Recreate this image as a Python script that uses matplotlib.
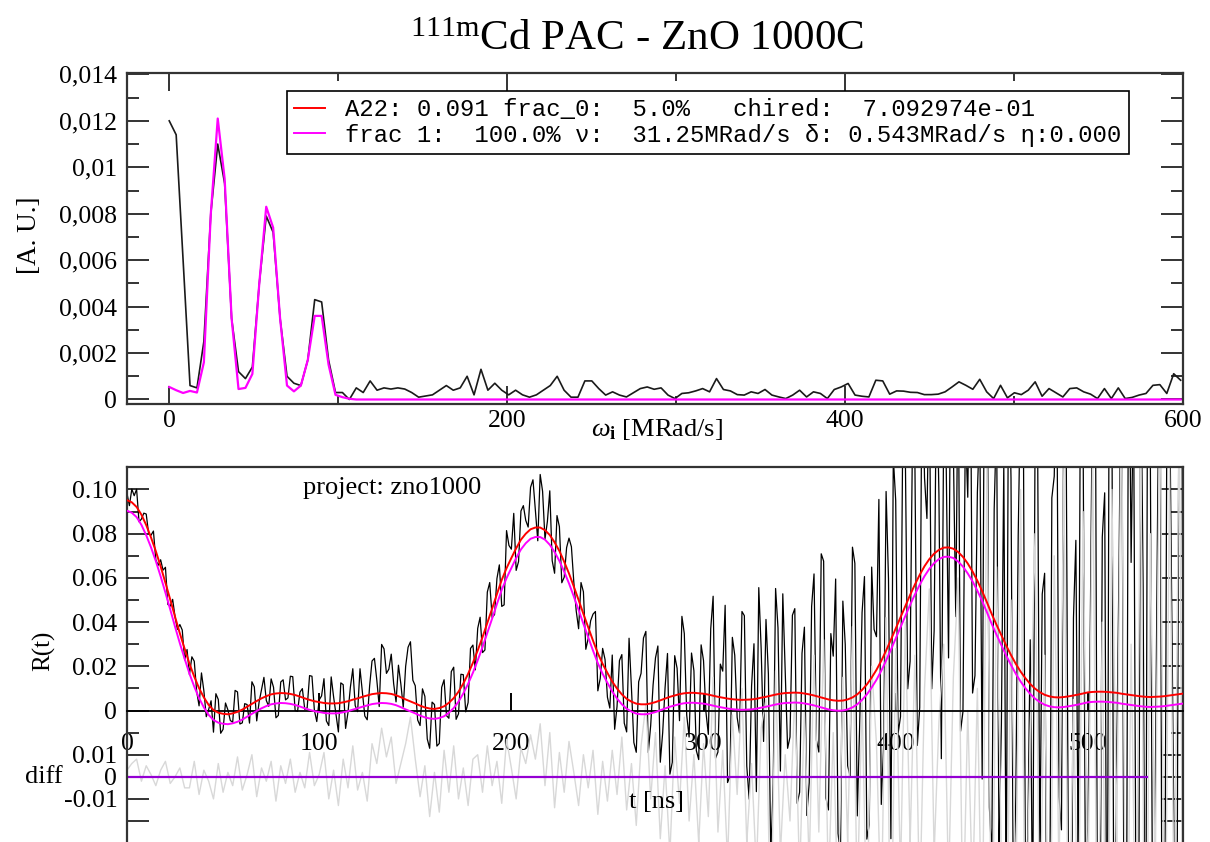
import numpy as np
import matplotlib
matplotlib.use("Agg")
import matplotlib.pyplot as plt
import matplotlib.transforms as mtransforms
from matplotlib.lines import Line2D
from matplotlib.ticker import FixedLocator, FixedFormatter, MultipleLocator, FuncFormatter

plt.rcParams["font.family"] = ["Liberation Serif", "DejaVu Serif"]
plt.rcParams["axes.unicode_minus"] = False
plt.rcParams["mathtext.fontset"] = "custom"
plt.rcParams["mathtext.rm"] = "Liberation Serif"
plt.rcParams["mathtext.it"] = "Liberation Serif:italic"
plt.rcParams["mathtext.bf"] = "Liberation Serif:bold"

# ---------------- Fourier spectrum (values in units of 1e-4) ----------------
FFT_UNIT = 1e-4
omega_step = 4.1  # MRad/s between spectrum channels
fft_data = [
    120, 114, 60, 6, 5, 25, 80, 110, 93, 35,
    12, 9, 14, 50, 79, 72, 35, 10, 7, 6,
    17, 43, 42, 17, 3, 3, 0, 5, 3, 8,
    4, 5, 4.5, 5, 4.5, 3, 1, 1.5, 2, 4,
    6, 4, 5, 10, 2, 13, 4, 7, 4, 2,
    4, 2, 1, 2, 4, 6, 10, 4, 1, 1,
    8, 8, 4.7, 1.9, 3.3, 1.9, 1.1, 2.9, 4.7, 5.4,
    4.4, 5, 1.9, 0.4, 2.6, 2.9, 3.7, 4.7, 3.3, 9,
    4.3, 3.7, 2.1, 1.9, 3.3, 2.6, 4.3, 1.9, 1.1, 0.4,
    1.9, 4, 1.1, 3.3, 2.6, 0.4, 4.3, 5.4, 6.9, 1.9,
    1.4, 1.1, 8.3, 8, 2.3, 3.7, 3.6, 3.1, 3, 2.1,
    2.1, 2.3, 3.3, 5.4, 7.6, 6.1, 4.4, 8.7, 3.3, 0.4,
    6.1, 0.7, 2.9, 2.1, 4, 7.6, 1.4, 4.7, 2.9, 1.1,
    4.7, 5, 3.3, 2.3, 0.4, 4.7, 0.4, 5, 0.4, 0.9,
    1.9, 2.6, 6.1, 6.4, 2.6, 11.1, 8.3,
]
fft_frac1 = [
    5.4, 4, 2.8, 3.7, 3.0, 16, 80, 121, 95, 35,
    4.5, 5, 11, 50, 83, 74, 35, 6, 3.5, 6,
    17, 36, 36, 15, 2, 1, 0.3, 0, 0, 0,
    0, 0, 0, 0, 0, 0, 0, 0, 0, 0,
    0, 0, 0, 0, 0, 0, 0, 0, 0, 0,
    0, 0, 0, 0, 0, 0, 0, 0, 0, 0,
    0, 0, 0, 0, 0, 0, 0, 0, 0, 0,
    0, 0, 0, 0, 0, 0, 0, 0, 0, 0,
    0, 0, 0, 0, 0, 0, 0, 0, 0, 0,
    0, 0, 0, 0, 0, 0, 0, 0, 0, 0,
    0, 0, 0, 0, 0, 0, 0, 0, 0, 0,
    0, 0, 0, 0, 0, 0, 0, 0, 0, 0,
    0, 0, 0, 0, 0, 0, 0, 0, 0, 0,
    0, 0, 0, 0, 0, 0, 0, 0, 0, 0,
    0, 0, 0, 0, 0, 0, 0,
]

# ---------------- R(t) spectrum (values in units of 1e-3) ----------------
RT_UNIT = 1e-3
t_data_step = 1.25  # ns between measured time channels
t_fit_step = 2.5    # ns between evaluated fit points (every 2nd channel)
rt_data = [
    98.2, 92.7, 100.2, 97.2, 100.1, 85.4, 86.6, 89.3, 88.9, 80.1, 79.3, 81.2, 68.1, 65.7, 68.2, 63.5, 64.8, 48.0, 47.2, 50.3,
    42.4, 36.7, 38.9, 36.4, 22.9, 27.6, 16.2, 24.3, 22.3, 8.7, 2.1, 17.0, 8.9, -2.8, 0.5, 4.4, -9.8, 7.6, 5.0, -10.3,
    -8.5, 3.4, 0.3, -4.5, -5.3, 9.1, 8.4, -6.1, -5.6, 3.1, 2.7, -5.7, 13.0, 10.7, -4.7, 3.9, 9.5, 15.0, 4.5, 1.9,
    14.3, 10.5, -3.3, -2.2, 12.9, 13.9, 4.8, 5.7, 15.5, 15.3, 0.0, -0.4, 8.3, 9.9, 0.5, 1.2, 15.8, 15.5, 0.2, -5.0,
    4.8, 6.6, 14.4, -4.7, -6.8, 15.2, 6.2, -1.8, -9.7, 12.5, 11.7, -8.1, -0.8, 10.6, 18.9, 2.2, -0.5, 18.9, 8.2, -2.5,
    -4.2, 11.1, 22.4, 23.6, 13.7, 1.8, 29.9, 27.9, 16.8, 18.7, 25.5, 12.2, 3.9, 20.5, 12.0, 1.5, 20.0, 28.6, 31.1, 13.7,
    11.2, -4.3, -6.8, 9.8, 6.4, -12.9, -17.1, 3.8, 2.7, -16.1, -14.9, 10.5, 13.9, -2.3, -3.5, 17.6, 19.6, -4.0, -1.5, 16.4,
    16.2, -0.6, 3.6, 28.1, 29.6, 18.4, 37.2, 42.2, 26.2, 27.4, 53.6, 57.9, 42.1, 43.4, 59.7, 65.9, 47.1, 47.8, 81.4, 74.7,
    73.0, 89.2, 63.4, 67.4, 90.3, 92.7, 86.0, 83.0, 101.0, 104.4, 90.8, 76.8, 106.8, 99.2, 77.6, 85.5, 99.4, 67.8, 62.1, 88.2,
    83.2, 57.8, 60.3, 73.7, 78.0, 74.1, 58.1, 45.1, 37.0, 57.9, 53.7, 27.7, 32.6, 40.6, 43.6, 44.8, 8.9, 14.5, 28.1, 23.1,
    6.0, 1.1, 25.1, -8.5, 1.9, 22.6, 25.3, -5.7, -9.7, 32.7, 10.0, -14.5, -18.9, 13.0, 16.8, 32.8, 35.8, -19.0, -6.8, 11.5,
    23.8, 29.2, -23.4, -10.0, 10.4, 25.8, -28.8, -23.5, 24.8, 19.1, -4.6, 42.6, 34.8, -2.1, -12.0, 26.0, 18.0, -18.1, -22.2, 29.7,
    22.6, -0.6, -10.8, 37.0, 51.7, -21.6, -18.8, 21.0, 17.8, 47.6, -32.6, -29.8, 33.1, 25.0, -3.1, -10.2, 44.8, 42.9, -25.1, -40.1,
    11.0, 30.2, -36.7, 55.6, 27.8, -14.0, 41.2, 16.5, -66.0, -33.1, 55.2, 37.4, -27.4, 52.8, 17.9, -17.1, -12.0, 43.1, 46.1, -42.0,
    -37.0, 25.9, 37.7, -47.5, -32.7, 47.1, 61.8, -13.5, -18.8, 70.9, 67.6, -39.7, -45.0, 34.8, 24.6, 59.5, -55.6, -65.6, 49.5, 29.8,
    -25.0, -29.6, 73.9, 66.6, -47.7, -6.7, 44.3, 60.6, -58.2, -51.7, 64.9, 36.7, 33.4, 95.5, -42.5, -15.2, 99.1, 59.6, -58.0, 114.6,
    95.1, -10.4, -2.8, 134.8, 117.3, 9.8, 22.3, 124.7, 112.0, -15.8, 1.4, 163.4, 105.3, 86.9, 153.5, 9.8, 36.0, 156.9, 97.7, -21.8,
    133.7, 113.8, 23.8, 183.5, 118.2, 42.5, 161.7, -9.4, -0.5, 128.0, 96.5, 184.7, 7.9, 15.8, 98.7, 131.4, -31.0, 181.5, 193.9, -43.8,
    -66.4, 91.2, 133.7, -63.7, -6.0, 111.7, -90.6, 167.3, 105.1, -96.9, -38.9, 79.4, 147.6, 166.1, -75.4, -56.7, 32.0, -99.1, 119.9, 139.1,
    -66.7, 52.7, 62.1, -133.3, -123.6, 96.2, 106.0, 166.0, -39.1, -54.0, 146.1, 116.3, -93.6, -143.4, 41.8, 77.0, -72.8, 177.5, 127.7, -82.1,
    -51.8, 38.3, 158.4, 188.5, -101.5, -121.5, 78.5, 98.5, -151.6, 208.3, 138.2, -161.9, -22.0, 67.8, 187.6, -92.6, -132.7, 197.2, 67.0, 146.9,
    -83.3, -153.5, 166.4, 56.3, -163.8, 216.2, 116.1, -113.9, -43.8, 86.3, 196.3, -173.6, -113.5, 166.7, 146.8, 37.0, -72.9, -132.8, 177.4, 207.6,
    -142.3,
]
rt_fit = [
    95.2, 94.2, 92.1, 88.6, 83.9, 78.3, 72.1, 65.2, 57.8, 50.2, 42.4, 34.9, 27.9, 21.2, 15.3, 10.1, 5.9, 2.5, 0.2, -1.0,
    -1.5, -1.7, -1.3, -0.6, 0.4, 1.7, 3.0, 4.3, 5.5, 6.5, 7.3, 7.7, 7.9, 7.8, 7.5, 7.0, 6.3, 5.5, 4.8, 4.2,
    3.8, 3.4, 3.2, 3.2, 3.3, 3.7, 4.2, 4.9, 5.5, 6.2, 6.8, 7.4, 7.7, 7.9, 7.8, 7.5, 6.9, 6.0, 5.0, 4.1,
    3.2, 2.2, 1.4, 0.9, 0.7, 1.1, 1.9, 3.5, 5.6, 8.5, 12.2, 16.6, 21.6, 27.2, 33.2, 39.6, 46.1, 52.7, 59.1, 64.4,
    69.0, 73.4, 77.3, 80.0, 82.0, 82.8, 82.8, 81.6, 79.4, 76.1, 72.2, 67.3, 62.0, 56.1, 50.0, 43.7, 37.6, 31.6, 25.9, 21.1,
    17.0, 13.1, 9.9, 7.3, 5.3, 4.0, 3.1, 2.8, 2.8, 3.2, 3.8, 4.6, 5.4, 6.2, 6.8, 7.4, 7.8, 8.0, 8.0, 7.8,
    7.6, 7.2, 6.7, 6.2, 5.8, 5.4, 5.1, 4.9, 4.8, 4.9, 5.0, 5.3, 5.8, 6.2, 6.7, 7.2, 7.6, 7.9, 8.0, 8.1,
    8.0, 7.7, 7.3, 6.8, 6.2, 5.6, 5.0, 4.6, 4.4, 4.5, 5.0, 5.9, 7.3, 9.3, 11.8, 14.9, 18.4, 22.5, 27.1, 32.0,
    37.1, 42.2, 47.3, 52.3, 57.0, 61.4, 65.3, 68.5, 71.0, 72.7, 73.7, 73.8, 73.2, 71.7, 69.5, 66.5, 62.9, 58.7, 54.0, 48.9,
    43.6, 38.7, 34.0, 29.4, 25.1, 21.1, 17.6, 14.6, 12.0, 9.9, 8.3, 7.1, 6.4, 6.0, 5.9, 6.1, 6.4, 6.8, 7.2, 7.7,
    8.2, 8.4, 8.5, 8.5, 8.4, 8.2, 8.0, 7.6, 7.3, 7.0, 6.7, 6.4, 6.2, 6.1, 6.2, 6.3, 6.5, 6.8, 7.1, 7.4, 7.7,
]
rt_frac1 = [
    90.4, 89.5, 87.5, 84.0, 79.3, 73.8, 67.6, 60.7, 53.3, 45.7, 37.9, 30.4, 23.4, 16.7, 10.8, 5.6, 1.4, -2.0, -4.3, -5.5,
    -6.0, -6.2, -5.8, -5.1, -4.1, -2.8, -1.5, -0.2, 1.0, 2.0, 2.8, 3.2, 3.4, 3.3, 3.0, 2.5, 1.8, 1.0, 0.3, -0.3,
    -0.7, -1.1, -1.3, -1.3, -1.2, -0.8, -0.3, 0.4, 1.0, 1.7, 2.3, 2.9, 3.2, 3.4, 3.3, 3.0, 2.4, 1.5, 0.5, -0.4,
    -1.3, -2.3, -3.1, -3.6, -3.8, -3.4, -2.6, -1.0, 1.1, 4.0, 7.7, 12.1, 17.1, 22.7, 28.7, 35.1, 41.6, 48.2, 54.6, 59.9,
    64.5, 69.0, 72.9, 75.7, 77.7, 78.5, 78.5, 77.3, 75.0, 71.7, 67.7, 62.8, 57.5, 51.6, 45.5, 39.2, 33.1, 27.1, 21.4, 16.6,
    12.5, 8.6, 5.4, 2.8, 0.8, -0.5, -1.4, -1.7, -1.7, -1.3, -0.7, 0.1, 0.9, 1.7, 2.3, 2.9, 3.3, 3.5, 3.5, 3.3,
    3.1, 2.7, 2.2, 1.7, 1.3, 0.9, 0.6, 0.4, 0.3, 0.4, 0.5, 0.8, 1.3, 1.7, 2.2, 2.7, 3.1, 3.4, 3.5, 3.6,
    3.5, 3.2, 2.8, 2.3, 1.7, 1.1, 0.5, 0.1, -0.1, 0.0, 0.5, 1.4, 2.8, 4.8, 7.3, 10.4, 13.9, 18.0, 22.6, 27.5,
    32.6, 37.7, 42.8, 47.8, 52.5, 56.9, 60.8, 64.1, 66.7, 68.5, 69.5, 69.6, 69.0, 67.4, 65.1, 62.0, 58.4, 54.2, 49.5, 44.4,
    39.1, 34.2, 29.5, 24.9, 20.6, 16.6, 13.1, 10.1, 7.5, 5.4, 3.8, 2.6, 1.9, 1.5, 1.4, 1.6, 1.9, 2.3, 2.7, 3.2,
    3.7, 3.9, 4.0, 4.0, 3.9, 3.7, 3.5, 3.1, 2.8, 2.5, 2.2, 1.9, 1.7, 1.6, 1.7, 1.8, 2.0, 2.3, 2.6, 2.9, 3.2,
]
diff_zero_t = [0, 531]  # extent of the residual baseline (ns)

legend_labels = [
    "A22: 0.091 frac_0:  5.0%   chired:  7.092974e-01",
    "frac 1:  100.0% \u03bd:  31.25MRad/s \u03b4: 0.543MRad/s \u03b7:0.000",
]

# ---------------- layout helpers ----------------
W, H = 1210, 842
SPINE = "#333333"
TICK_FS = 18.5


def px_rect(x0, y0, x1, y1):
    return [x0 / W, 1 - y1 / H, (x1 - x0) / W, (y1 - y0) / H]


fig = plt.figure(figsize=(W / 100, H / 100), dpi=100, facecolor="white")

fig.text(0.5264, 1 - 50 / H, r"$^{\mathrm{111m}}$Cd PAC - ZnO 1000C",
         ha="center", va="baseline", fontsize=31)

# ================= top panel: Fourier transform =================
ax_t = fig.add_axes(px_rect(127, 73, 1183, 404))
omega = omega_step * np.arange(len(fft_data))
ax_t.plot(omega, np.array(fft_data) * FFT_UNIT, color="#1a1a1a", lw=1.2, zorder=3)
ax_t.plot(omega, np.array(fft_frac1) * FFT_UNIT, color="#ff00ff", lw=1.6, zorder=4)
ax_t.set_xlim(-25, 600)
ax_t.set_ylim(-0.000194, 0.01406)

ax_t.xaxis.set_major_locator(FixedLocator([0, 200, 400, 600]))
ax_t.xaxis.set_minor_locator(FixedLocator([100, 300, 500]))
ax_t.yaxis.set_major_locator(MultipleLocator(0.002))
ax_t.yaxis.set_minor_locator(MultipleLocator(0.001))
ax_t.yaxis.set_major_formatter(
    FuncFormatter(lambda v, p: "0" if abs(v) < 1e-12 else f"{v:g}".replace(".", ",")))
ax_t.tick_params(which="both", direction="in", top=True, right=True,
                 color=SPINE, width=1.4, labelsize=TICK_FS)
ax_t.tick_params(axis="x", which="major", length=13, pad=4)
ax_t.tick_params(axis="x", which="minor", length=6)
ax_t.tick_params(axis="y", which="major", length=15.8, pad=7)
ax_t.tick_params(axis="y", which="minor", length=8.3)
for s in ax_t.spines.values():
    s.set_color(SPINE)
    s.set_linewidth(1.6)

ax_t.text(0.502, -0.078, r"$\omega_{\mathbf{i}}$ [MRad/s]", transform=ax_t.transAxes,
          ha="center", va="center", fontsize=19)
ax_t.text(-0.0928, 0.5106, "[A. U.]", transform=ax_t.transAxes, rotation=90,
          ha="center", va="center", fontsize=19.5)

handles = [Line2D([], [], color="#ff0000", lw=1.4), Line2D([], [], color="#ff00ff", lw=1.4)]
leg = ax_t.legend(handles, legend_labels, loc="upper left",
                  bbox_to_anchor=(0.1511, 0.9465), borderaxespad=0,
                  prop={"family": ["Liberation Mono", "DejaVu Sans Mono"], "size": 17.2},
                  frameon=True, fancybox=False, framealpha=1, edgecolor="black",
                  borderpad=0.3, labelspacing=0.12, handlelength=1.3, handletextpad=0.85)
leg.get_frame().set_linewidth(1.2)

# ================= bottom panel: R(t) and residuals =================
ax_b = fig.add_axes(px_rect(127, 467, 1183, 846))
t_data = t_data_step * np.arange(len(rt_data))
t_fit = t_fit_step * np.arange(len(rt_fit))
data = np.array(rt_data) * RT_UNIT
fit = np.array(rt_fit) * RT_UNIT
frac1 = np.array(rt_frac1) * RT_UNIT
residual = data[::2] - fit  # measured minus fitted at the fit sample times

R_LIM = (-0.06131, 0.11018)
DIFF_BASE = -0.03  # residual panel sits at R = -0.03

# second y scale for the residuals (shares the time axis)
ax_d = ax_b.twinx()
ax_d.set_zorder(ax_b.get_zorder() - 1)
ax_b.patch.set_visible(False)
ax_d.set_ylim(R_LIM[0] - DIFF_BASE, R_LIM[1] - DIFF_BASE)
for s in ax_d.spines.values():
    s.set_visible(False)
ax_d.yaxis.set_major_locator(FixedLocator([0.01, 0.0, -0.01, -0.02]))
ax_d.yaxis.set_major_formatter(FixedFormatter(["0.01", "0", "-0.01", ""]))
ax_d.tick_params(axis="y", which="major", direction="in", left=True, right=True,
                 labelleft=True, labelright=False, length=15.8, width=1.4,
                 color=SPINE, pad=7, labelsize=TICK_FS)

ax_b.set_autoscale_on(False)
ax_b.set_xlim(0, 549.5)
ax_b.set_ylim(*R_LIM)
ax_b.plot(t_data, data, color="black", lw=0.9, zorder=2)
# residuals drawn on the residual scale, layered above the measured curve
ax_b.plot(t_fit, residual, color="#d8d8d8", lw=1.0, zorder=2.2, transform=ax_d.transData)
ax_b.plot(diff_zero_t, [0, 0], color="#9400d3", lw=1.6, zorder=2.3, transform=ax_d.transData)
ax_b.plot(t_fit, frac1, color="#ff00ff", lw=1.4, zorder=3)
ax_b.plot(t_fit, fit, color="#ff0000", lw=1.4, zorder=4)
ax_b.set_xlim(0, 549.5)
ax_b.set_ylim(*R_LIM)

ax_b.spines["bottom"].set_position(("data", 0.0))
ax_b.spines["bottom"].set_color("black")
ax_b.spines["bottom"].set_linewidth(1.3)
for k in ("top", "left", "right"):
    ax_b.spines[k].set_color(SPINE)
    ax_b.spines[k].set_linewidth(1.6)

ax_b.xaxis.set_major_locator(FixedLocator([0, 100, 200, 300, 400, 500]))
ax_b.tick_params(axis="x", which="major", direction="in", length=13, width=1.4,
                 color="black", pad=16, labelsize=TICK_FS, top=False)
ax_b.yaxis.set_major_locator(FixedLocator([0.0, 0.02, 0.04, 0.06, 0.08, 0.10]))
ax_b.yaxis.set_minor_locator(FixedLocator([-0.01, 0.01, 0.03, 0.05, 0.07, 0.09]))
ax_b.yaxis.set_major_formatter(
    FuncFormatter(lambda v, p: "0" if abs(v) < 1e-12 else f"{v:.2f}"))
ax_b.tick_params(axis="y", which="both", direction="in", left=True, right=True,
                 color=SPINE, width=1.4, labelsize=TICK_FS, pad=7)
ax_b.tick_params(axis="y", which="major", length=15.8)
ax_b.tick_params(axis="y", which="minor", length=8.3)

ax_b.text(0.251, 0.9446, "project: zno1000", transform=ax_b.transAxes,
          ha="center", va="center", fontsize=19)
ax_b.text(0.501, 0.117, "t [ns]", transform=ax_b.transAxes,
          ha="center", va="center", fontsize=19)
ax_b.text(-0.0786, 0.5145, "R(t)", transform=ax_b.transAxes, rotation=90,
          ha="center", va="center", fontsize=18)
diff_tr = mtransforms.blended_transform_factory(ax_b.transAxes, ax_d.transData)
ax_b.text(-0.0786, 0.0, "diff", transform=diff_tr, ha="center", va="center", fontsize=19)

fig.savefig("out.png", dpi=100, facecolor="white")
